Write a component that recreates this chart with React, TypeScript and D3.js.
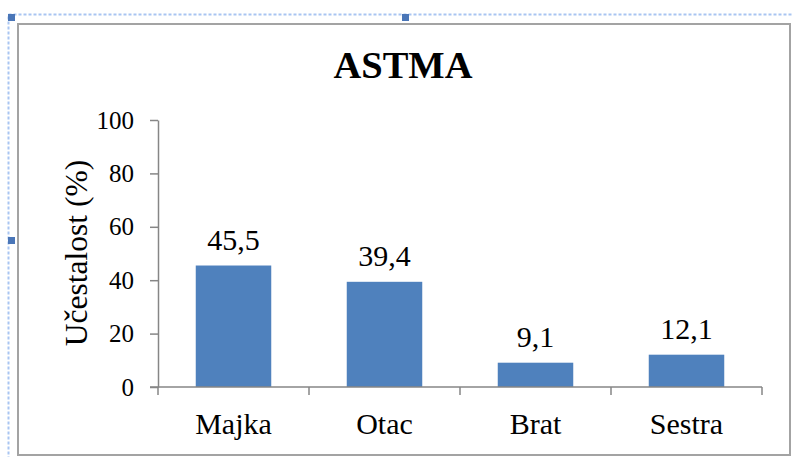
import { useRef, useEffect } from "react";
import * as d3 from "d3";

const categories = ["Majka", "Otac", "Brat", "Sestra"];
const values = [45.5, 39.4, 9.1, 12.1];
const valueLabels = ["45,5", "39,4", "9,1", "12,1"];
const yTicks = [0, 20, 40, 60, 80, 100];

function App() {
  const svgRef = useRef<SVGSVGElement>(null);

  useEffect(() => {
    const w = 792;
    const h = 457;
    const svg = d3.select(svgRef.current).attr("width", w).attr("height", h);
    svg.selectAll("*").remove();

    const font = "Liberation Serif, Times New Roman, DejaVu Serif, serif";

    // selection frame
    svg.append("rect")
      .attr("x", 8.5).attr("y", 14.5).attr("width", 800).attr("height", 460)
      .attr("fill", "none").attr("stroke", "#a9c5f2").attr("stroke-width", 2)
      .attr("stroke-dasharray", "3,2");
    // chart border
    svg.append("rect")
      .attr("x", 18).attr("y", 24).attr("width", 772).attr("height", 431)
      .attr("fill", "#fff").attr("stroke", "#a3a3a3").attr("stroke-width", 2);
    // handles
    const handles = [[8, 14], [402, 14], [8, 237]];
    svg.selectAll(".handle").data(handles).enter().append("rect")
      .attr("x", d => d[0]).attr("y", d => d[1]).attr("width", 7).attr("height", 7)
      .attr("fill", "#4a76b8");

    const x = d3.scaleBand().domain(categories).range([158, 762]).paddingInner(0.5).paddingOuter(0.25);
    const xTick = d3.scaleBand().domain(categories).range([158, 762]);
    const y = d3.scaleLinear().domain([0, 100]).range([387, 120]);

    // bars
    svg.selectAll(".bar").data(values).enter().append("rect")
      .attr("x", (d, i) => x(categories[i])!)
      .attr("y", d => y(d))
      .attr("width", x.bandwidth())
      .attr("height", d => y(0) - y(d))
      .attr("fill", "#4f81bd");

    // value labels
    svg.selectAll(".val").data(values).enter().append("text")
      .attr("x", (d, i) => x(categories[i])! + x.bandwidth() / 2)
      .attr("y", d => y(d) - 16)
      .attr("text-anchor", "middle")
      .style("font-family", font).attr("font-size", 30)
      .text((d, i) => valueLabels[i]);

    // y axis
    const yAxis = d3.axisLeft(y).tickValues(yTicks).tickSize(8).tickSizeOuter(0).tickPadding(16);
    const gy = svg.append("g").attr("transform", "translate(158,0)").call(yAxis);
    gy.select(".domain").attr("stroke", "#868686").attr("stroke-width", 1.5);
    gy.selectAll(".tick line").attr("stroke", "#868686").attr("stroke-width", 1.5);
    gy.selectAll(".tick text").style("font-family", font).attr("font-size", 25).attr("fill", "#000");

    // x axis
    const gx = svg.append("g").attr("transform", "translate(0,387)");
    gx.append("line").attr("x1", 150).attr("x2", 762).attr("y1", 0).attr("y2", 0)
      .attr("stroke", "#868686").attr("stroke-width", 1.5);
    const xEdges = categories.map(c => xTick(c)!).concat([762]);
    gx.selectAll(".xt").data(xEdges).enter().append("line")
      .attr("x1", d => d).attr("x2", d => d).attr("y1", 0).attr("y2", 8)
      .attr("stroke", "#868686").attr("stroke-width", 1.5);
    gx.selectAll(".xl").data(categories).enter().append("text")
      .attr("x", d => xTick(d)! + xTick.bandwidth() / 2)
      .attr("y", 47)
      .attr("text-anchor", "middle")
      .style("font-family", font).attr("font-size", 30)
      .text(d => d);

    // title
    svg.append("text")
      .attr("x", 403).attr("y", 78)
      .attr("text-anchor", "middle")
      .style("font-family", font).attr("font-size", 38.5).attr("font-weight", "bold")
      .text("ASTMA");

    // y axis title
    svg.append("text")
      .attr("transform", "translate(87,253) rotate(-90)")
      .attr("text-anchor", "middle")
      .style("font-family", font).attr("font-size", 31.5)
      .text("Učestalost (%)");
  }, []);

  return (
    <svg ref={svgRef} style={{ position: "absolute", left: 0, top: 0, background: "#fff" }} />
  );
}

export default App;
